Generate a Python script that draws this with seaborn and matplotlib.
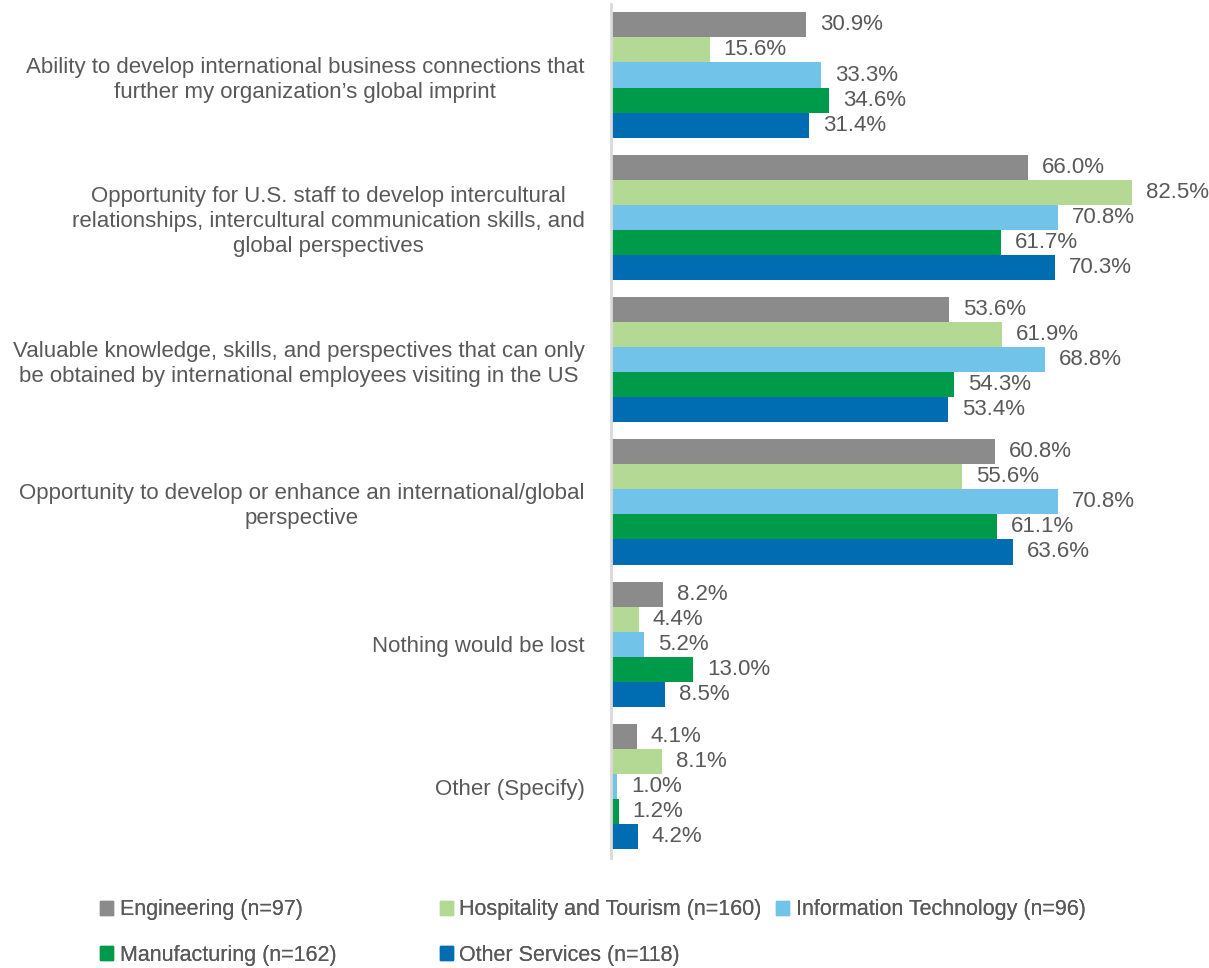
import pandas as pd
import matplotlib.pyplot as plt
import matplotlib.patches as mpatches
import seaborn as sns

# Data
categories = [
    "Ability to develop international business connections that\nfurther my organization\u2019s global imprint",
    "Opportunity for U.S. staff to develop intercultural\nrelationships, intercultural communication skills, and\nglobal perspectives",
    "Valuable knowledge, skills, and perspectives that can only\nbe obtained by international employees visiting in the US",
    "Opportunity to develop or enhance an international/global\nperspective",
    "Nothing would be lost",
    "Other (Specify)",
]
series = [
    "Engineering (n=97)",
    "Hospitality and Tourism (n=160)",
    "Information Technology (n=96)",
    "Manufacturing (n=162)",
    "Other Services (n=118)",
]
engineering = [30.9, 66.0, 53.6, 60.8, 8.2, 4.1]
hospitality = [15.6, 82.5, 61.9, 55.6, 4.4, 8.1]
info_tech = [33.3, 70.8, 68.8, 70.8, 5.2, 1.0]
manufacturing = [34.6, 61.7, 54.3, 61.1, 13.0, 1.2]
other_services = [31.4, 70.3, 53.4, 63.6, 8.5, 4.2]
colors = ["#8B8B8B", "#B4D995", "#72C3E9", "#009A4B", "#006CB2"]

values = [engineering, hospitality, info_tech, manufacturing, other_services]
rows = []
for s, vals in zip(series, values):
    for c, v in zip(categories, vals):
        rows.append({"Category": c, "Series": s, "Value": v})
df = pd.DataFrame(rows)

sns.set_theme(style="white")
plt.rcParams['font.family'] = ['Liberation Sans', 'DejaVu Sans']
text_color = "#595959"
fs = 16

fig = plt.figure(figsize=(12.09, 9.68), dpi=100)
ax = fig.add_axes([0.5054, 0.114, 0.47, 0.882])

sns.barplot(data=df, y="Category", x="Value", hue="Series", orient="h",
            palette=colors, width=0.88, ax=ax, legend=False, saturation=1,
            linewidth=0)

for cont in ax.containers:
    ax.bar_label(cont, fmt="%.1f%%", padding=10, fontsize=fs, color=text_color)

ax.set_xlim(0, 90)
ax.set_ylim(5.5, -0.5)
ax.set_xlabel("")
ax.set_ylabel("")
ax.set_xticks([])
ax.tick_params(axis="y", length=0, pad=19, labelsize=fs, labelcolor=text_color)
for lab in ax.get_yticklabels():
    lab.set_multialignment("center")
    lab.set_linespacing(1.25)
for side in ["top", "right", "bottom"]:
    ax.spines[side].set_visible(False)
ax.spines["left"].set_color("#D9D9D9")
ax.spines["left"].set_linewidth(2)

# legend entries, placed like the original two-row legend
legend_pos = [(0.083, 0.060), (0.364, 0.060), (0.642, 0.060),
              (0.083, 0.0134), (0.364, 0.0134)]
for s, col, (lx, ly) in zip(series, colors, legend_pos):
    h = mpatches.Patch(color=col, label=s)
    leg = fig.legend(handles=[h], loc="center left", bbox_to_anchor=(lx, ly),
                     frameon=False, fontsize=15.5, handlelength=0.6,
                     handleheight=0.6, handletextpad=0.3, borderpad=0,
                     borderaxespad=0, labelcolor=text_color)
    fig.add_artist(leg)

fig.savefig("out.png", dpi=100)
